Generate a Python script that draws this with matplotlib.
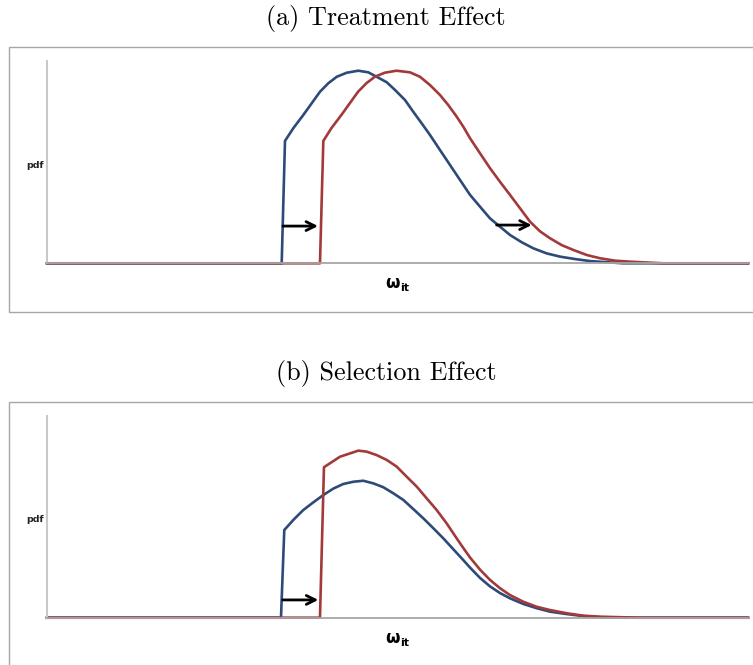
import matplotlib
matplotlib.use("Agg")
import matplotlib.pyplot as plt
from matplotlib.patches import Rectangle

# ── Data (x in omega units 0-10, y as pdf 0-1) ───────────────────────────────

# (a) Treatment effect
a_blue_x = [0, 3.348, 3.395, 3.514, 3.656, 3.776, 3.894, 4.013, 4.133, 4.275,
            4.441, 4.583, 4.703, 4.846, 4.964, 5.107, 5.225, 5.345, 5.464,
            5.606, 5.749, 5.892, 6.035, 6.177, 6.320, 6.462, 6.605, 6.772,
            6.938, 7.128, 7.318, 7.532, 7.746, 8.217, 10.0]
a_blue_y = [0, 0, 0.605, 0.668, 0.733, 0.791, 0.848, 0.890, 0.922, 0.942,
            0.952, 0.944, 0.922, 0.895, 0.857, 0.807, 0.749, 0.692, 0.634,
            0.560, 0.486, 0.412, 0.338, 0.280, 0.222, 0.181, 0.140, 0.104,
            0.074, 0.049, 0.033, 0.021, 0.011, 0, 0]

a_red_x = [0, 3.894, 3.942, 4.057, 4.199, 4.319, 4.437, 4.556, 4.676, 4.818,
           4.984, 5.178, 5.321, 5.464, 5.606, 5.725, 5.844, 5.939, 6.035,
           6.177, 6.320, 6.462, 6.605, 6.748, 6.890, 7.033, 7.175, 7.342,
           7.508, 7.700, 7.889, 8.103, 8.317, 8.787, 10.0]
a_red_y = [0, 0, 0.605, 0.668, 0.733, 0.791, 0.848, 0.890, 0.922, 0.942,
           0.952, 0.944, 0.922, 0.881, 0.832, 0.782, 0.725, 0.675, 0.618,
           0.544, 0.470, 0.403, 0.338, 0.272, 0.206, 0.158, 0.124, 0.090,
           0.066, 0.041, 0.025, 0.013, 0.008, 0, 0]

a_arrows = [(3.366, 3.866, 0.184), (6.414, 6.914, 0.189)]

# (b) Selection effect
b_blue_x = [0, 3.338, 3.385, 3.514, 3.656, 3.799, 3.941, 4.084, 4.227, 4.370,
            4.512, 4.655, 4.797, 4.940, 5.083, 5.225, 5.368, 5.511, 5.653,
            5.796, 5.939, 6.035, 6.177, 6.320, 6.462, 6.605, 6.795, 6.986,
            7.175, 7.414, 7.651, 7.889, 8.2, 10.0]
b_blue_y = [0, 0, 0.434, 0.484, 0.533, 0.571, 0.607, 0.639, 0.662, 0.673,
            0.678, 0.665, 0.646, 0.616, 0.583, 0.538, 0.492, 0.443, 0.393,
            0.339, 0.285, 0.248, 0.197, 0.155, 0.122, 0.096, 0.068, 0.047,
            0.030, 0.018, 0.008, 0.002, 0, 0]

b_red_x = [0, 3.894, 3.951, 4.180, 4.441, 4.561, 4.703, 4.846, 4.988, 5.131,
           5.274, 5.416, 5.559, 5.701, 5.844, 5.939, 6.035, 6.177, 6.320,
           6.462, 6.605, 6.795, 6.986, 7.175, 7.414, 7.651, 7.889, 8.46, 10.0]
b_red_y = [0, 0, 0.745, 0.797, 0.827, 0.822, 0.805, 0.781, 0.748, 0.698,
           0.649, 0.591, 0.533, 0.467, 0.393, 0.345, 0.298, 0.238, 0.187,
           0.146, 0.112, 0.079, 0.054, 0.038, 0.022, 0.010, 0.005, 0, 0]

b_arrows = [(3.362, 3.870, 0.088)]

BLUE = "#2d4a78"
RED = "#a23a3a"
W, H = 753, 665

fig = plt.figure(figsize=(W / 100, H / 100), dpi=100)


def px_axes(left, top, right, bottom):
    return fig.add_axes([left / W, 1 - bottom / H,
                         (right - left) / W, (bottom - top) / H])


def panel(title, title_y, box_top, box_bottom, ax_top, ax_bottom,
          bx, by, rx, ry, arrows):
    fig.text(386 / W, 1 - title_y / H, title, family="cmr10", fontsize=18.8,
             ha="center", va="center")
    fig.patches.append(Rectangle((9 / W, 1 - box_bottom / H),
                                 (W + 20) / W, (box_bottom - box_top) / H,
                                 transform=fig.transFigure, fill=False,
                                 edgecolor="#a6a6a6", lw=1.0))
    ax = px_axes(47, ax_top, 748, ax_bottom)
    ax.set_xlim(0, 10)
    ax.set_ylim(0, 1)
    for s in ["top", "right"]:
        ax.spines[s].set_visible(False)
    ax.spines["left"].set_color("#c8c8c8")
    ax.spines["bottom"].set_color("#a6a6a6")
    ax.spines["left"].set_linewidth(1.5)
    ax.spines["bottom"].set_linewidth(1.3)
    ax.set_xticks([])
    ax.set_yticks([])
    ax.patch.set_visible(False)

    ax.plot(bx, by, color=BLUE, lw=1.9, clip_on=False, solid_joinstyle="round")
    ax.plot(rx, ry, color=RED, lw=1.9, clip_on=False, solid_joinstyle="round")
    for x0, x1, y in arrows:
        ax.annotate("", xy=(x1, y), xytext=(x0, y),
                    arrowprops=dict(arrowstyle="->", lw=2.0, color="black",
                                    mutation_scale=16, shrinkA=0, shrinkB=0))

    mid = (ax_top + ax_bottom) / 2
    fig.text(35 / W, 1 - (mid + 3) / H, "pdf", family="DejaVu Sans",
             fontweight="bold", fontsize=6.8, ha="center", va="center",
             color="#222222")
    fig.text(392 / W, 1 - (ax_bottom + 20) / H, "ω", family="DejaVu Sans",
             fontweight="bold", fontsize=12, ha="center", va="center")
    fig.text(405 / W, 1 - (ax_bottom + 25) / H, "it", family="DejaVu Sans",
             fontweight="bold", fontsize=8, ha="center", va="center")
    return ax


panel("(a) Treatment Effect", 18, 47, 312, 61, 263.3,
      a_blue_x, a_blue_y, a_red_x, a_red_y, a_arrows)
panel("(b) Selection Effect", 373, 402, 700, 415.7, 617.7,
      b_blue_x, b_blue_y, b_red_x, b_red_y, b_arrows)

fig.savefig("out.png", dpi=100)
